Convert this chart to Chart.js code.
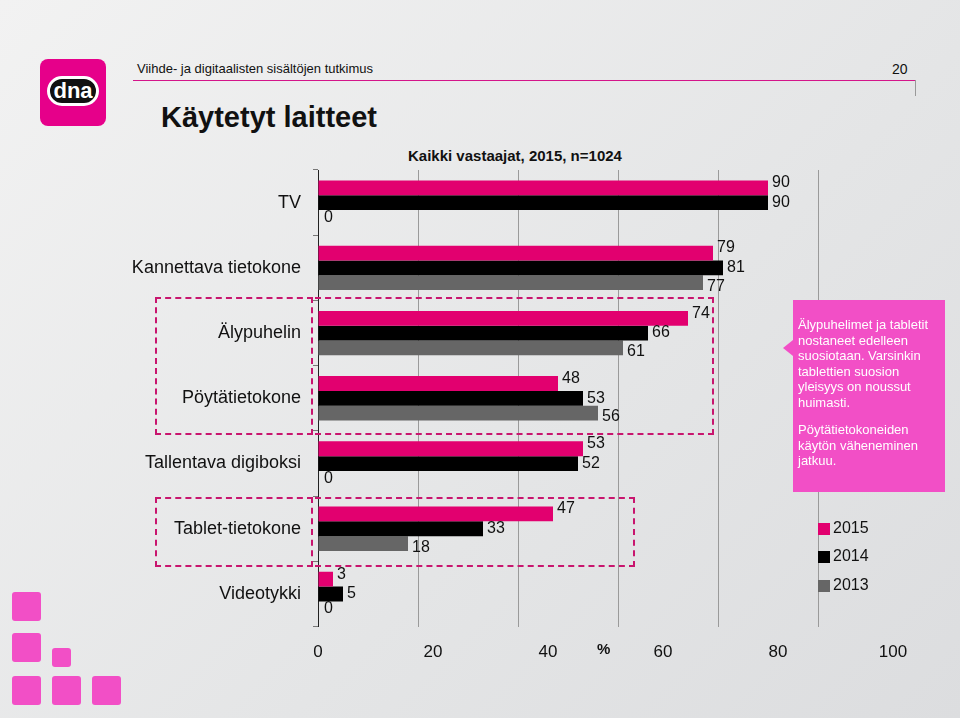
<!DOCTYPE html>
<html><head><meta charset="utf-8">
<script src="https://cdn.jsdelivr.net/npm/chart.js@4"></script>
<style>
body{margin:0;width:960px;height:718px;position:relative;overflow:hidden;font-family:"Liberation Sans",Arial,sans-serif;background:linear-gradient(135deg,#f2f2f2 0%,#e4e5e6 60%,#dcdddf 100%);}
.abs{position:absolute}
#wrap{position:absolute;left:0;top:0;width:960px;height:718px}
.sq{position:absolute;background:#f24fc6;border-radius:3px}
.dash{position:absolute;border:2px dashed #c8156e}
</style></head><body>
<div class="abs" style="left:40px;top:59px;width:66px;height:67px;background:#e6008a;border-radius:8px"></div>
<div class="abs" style="left:47px;top:76px;width:52px;height:30px;background:#111;border:3px solid #fff;border-radius:16px;color:#fff;font:bold 22px 'Liberation Sans';text-align:center;line-height:24px;box-sizing:border-box">dna</div>
<div class="abs" style="left:137px;top:61px;font-size:13px;color:#111">Viihde- ja digitaalisten sisältöjen tutkimus</div>
<div class="abs" style="left:133px;top:80px;width:782px;height:1px;background:#d4158a"></div>
<div class="abs" style="left:915px;top:80px;width:1px;height:16px;background:#999"></div>
<div class="abs" style="left:892px;top:61px;font-size:14px;color:#111">20</div>
<div class="abs" style="left:161px;top:101px;font-size:29px;font-weight:bold;color:#111">Käytetyt laitteet</div>
<div class="abs" style="left:408px;top:147px;font-size:15px;font-weight:bold;color:#111">Kaikki vastaajat, 2015, n=1024</div>
<div id="wrap"><canvas id="c" width="960" height="718"></canvas></div>
<div class="dash" style="left:155px;top:297px;width:154px;height:134px"></div>
<div class="dash" style="left:315px;top:297px;width:397px;height:134px;border-left:none"></div>
<div class="dash" style="left:155px;top:497px;width:154px;height:66px"></div>
<div class="dash" style="left:315px;top:497px;width:318px;height:66px;border-left:none"></div>
<div class="abs" style="left:793px;top:300px;width:152px;height:192px;background:#f24fc6"></div>
<div class="abs" style="left:783px;top:340px;width:0;height:0;border-top:8px solid transparent;border-bottom:8px solid transparent;border-right:10px solid #f24fc6"></div>
<div class="abs" style="left:798px;top:317px;width:138px;font-size:13px;line-height:15.5px;color:#fff">Älypuhelimet ja tabletit nostaneet edelleen suosiotaan. Varsinkin tablettien suosion yleisyys on noussut huimasti.<div style="height:12px"></div>Pöytätietokoneiden käytön väheneminen jatkuu.</div>
<div class="abs" style="left:818px;top:523px;width:12px;height:12px;background:#e2006f"></div>
<div class="abs" style="left:818px;top:551px;width:12px;height:12px;background:#000"></div>
<div class="abs" style="left:818px;top:580px;width:12px;height:12px;background:#666"></div>
<div class="abs" style="left:833px;top:519px;font-size:16px;color:#111">2015</div>
<div class="abs" style="left:833px;top:547px;font-size:16px;color:#111">2014</div>
<div class="abs" style="left:833px;top:576px;font-size:16px;color:#111">2013</div>
<div class="abs" style="left:597px;top:640px;font-size:15px;font-weight:bold;color:#111">%</div>
<div class="sq" style="left:12px;top:592px;width:29px;height:29px"></div>
<div class="sq" style="left:12px;top:633px;width:29px;height:29px"></div>
<div class="sq" style="left:52px;top:648px;width:19px;height:19px"></div>
<div class="sq" style="left:12px;top:676px;width:29px;height:29px"></div>
<div class="sq" style="left:52px;top:676px;width:29px;height:29px"></div>
<div class="sq" style="left:92px;top:676px;width:29px;height:29px"></div>
<script>
// data
const categories = ['TV', 'Kannettava tietokone', 'Älypuhelin', 'Pöytätietokone', 'Tallentava digiboksi', 'Tablet-tietokone', 'Videotykki'];
const years = ['2015', '2014', '2013'];
const values2015 = [90, 79, 74, 48, 53, 47, 3];
const values2014 = [90, 81, 66, 53, 52, 33, 5];
const values2013 = [0, 77, 61, 56, 0, 18, 0];
const gridTicks = [0, 20, 40, 60, 80, 100];
const tickLabels = ['0', '20', '40', '60', '80', '100'];
const colors = ['#e2006f', '#000000', '#666666'];

// value labels next to bars
const labelPlugin = {
  id: 'labels',
  afterDatasetsDraw(chart) {
    const ctx = chart.ctx;
    ctx.save();
    ctx.font = '16px "Liberation Sans", Arial';
    ctx.fillStyle = '#111';
    ctx.textBaseline = 'middle';
    chart.data.datasets.forEach((ds, i) => {
      chart.getDatasetMeta(i).data.forEach((bar, j) => {
        const v = ds.data[j];
        const dy = v === 0 ? 0 : [-5, 0, 4][i];
        ctx.fillText(v, bar.x + (v === 0 ? 6 : 4), bar.y + dy);
      });
    });
    ctx.restore();
  }
};

new Chart(document.getElementById('c'), {
  type: 'bar',
  data: {
    labels: categories,
    datasets: [values2015, values2014, values2013].map((d, i) => ({
      label: years[i], data: d, backgroundColor: colors[i],
      barPercentage: 1, categoryPercentage: 0.68
    }))
  },
  options: {
    indexAxis: 'y',
    responsive: false,
    animation: false,
    layout: { padding: { left: 0, right: 67, top: 170, bottom: 47 } },
    plugins: { legend: { display: false }, tooltip: { enabled: false } },
    scales: {
      y: {
        afterFit(s) { s.width = 318; },
        ticks: { color: '#111', font: { size: 18, family: '"Liberation Sans", Arial' }, padding: 12 },
        grid: { display: true, drawOnChartArea: false, offset: true, tickLength: 5, color: '#777' },
        border: { color: '#222', width: 1 }
      },
      x: {
        min: 0, max: 115,
        afterBuildTicks(s) { s.ticks = gridTicks.map(v => ({ value: v })); },
        ticks: { display: false },
        grid: { color: '#9a9a9a', drawTicks: false },
        border: { display: false }
      },
      x2: {
        position: 'bottom', min: 0, max: 115,
        afterBuildTicks(s) { s.ticks = gridTicks.map((v, i) => ({ value: i * 23 })); },
        ticks: { color: '#111', font: { size: 17, family: '"Liberation Sans", Arial' }, maxRotation: 0, padding: 8,
          callback: (v, i) => tickLabels[i] },
        grid: { display: false },
        border: { display: false }
      }
    }
  },
  plugins: [labelPlugin]
});
</script>
</body></html>
